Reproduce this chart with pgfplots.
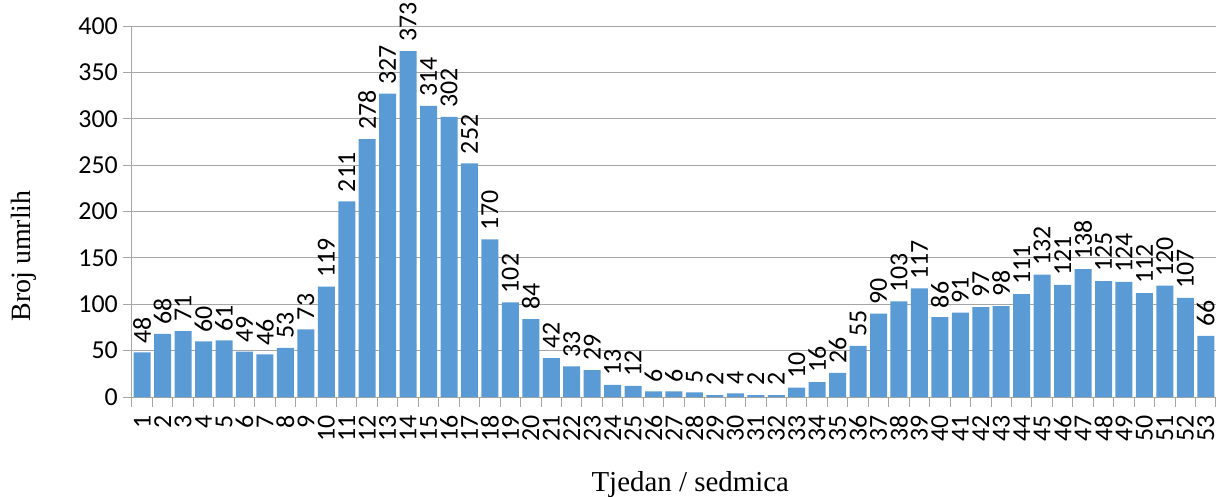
\documentclass[border=0pt]{standalone}
\usepackage{fontspec}
\setmainfont{Carlito}
\newfontfamily\serifl{Liberation Serif}
\usepackage{pgfplots}
\pgfplotsset{compat=1.18}
\definecolor{barblue}{HTML}{5B9BD5}
\definecolor{gridgray}{HTML}{A6A6A6}
\pgfplotstableread{
w v
1 48
2 68
3 71
4 60
5 61
6 49
7 46
8 53
9 73
10 119
11 211
12 278
13 327
14 373
15 314
16 302
17 252
18 170
19 102
20 84
21 42
22 33
23 29
24 13
25 12
26 6
27 6
28 5
29 2
30 4
31 2
32 2
33 10
34 16
35 26
36 55
37 90
38 103
39 117
40 86
41 91
42 97
43 98
44 111
45 132
46 121
47 138
48 125
49 124
50 112
51 120
52 107
53 66
}\datatable
\begin{document}
\begin{tikzpicture}
\useasboundingbox (-132bp,-100bp) rectangle (1092bp,397bp);
\begin{axis}[
  at={(0,0)}, anchor=south west,
  scale only axis, width=1084bp, height=371bp,
  xmin=0.5, xmax=53.5, ymin=0, ymax=400,
  axis x line*=bottom, axis y line*=left,
  axis line style={draw=gridgray, line width=1bp},
  /pgf/number format/assume math mode=true,
  ytick={0,50,...,400},
  ymajorgrids, grid style={draw=gridgray, line width=1bp},
  tick align=outside,
  major tick length=9bp, minor tick length=10bp,
  ytick style={draw=gridgray, line width=1bp},
  xtick={1,...,53},
  xtick style={draw=none},
  minor xtick={0.5,1.5,...,53.5},
  minor x tick style={draw=gridgray, line width=1bp},
  tick label style={font=\fontsize{26}{30}\selectfont},
  y tick label style={inner sep=5bp},
  x tick label style={rotate=90, anchor=east, font=\fontsize{26}{30}\selectfont, inner xsep=9bp, inner ysep=0bp},
  xlabel={Tjedan / sedmica}, ylabel={Broj umrlih},
  xlabel style={font=\serifl\fontsize{29}{33}\selectfont, at={(axis description cs:0.515,-0.235)}, anchor=center},
  ylabel style={font=\serifl\fontsize{28}{32}\selectfont, at={(axis description cs:-0.1,0.38)}, anchor=center},
  nodes near coords,
  every node near coord/.append style={rotate=90, anchor=west, font=\fontsize{26}{30}\selectfont, inner xsep=9bp, inner ysep=0bp, text=black},
]
\addplot[ybar, bar width=17bp, bar shift=0pt, fill=barblue, draw=none] table[x=w, y=v] {\datatable};
\end{axis}
\end{tikzpicture}
\end{document}
